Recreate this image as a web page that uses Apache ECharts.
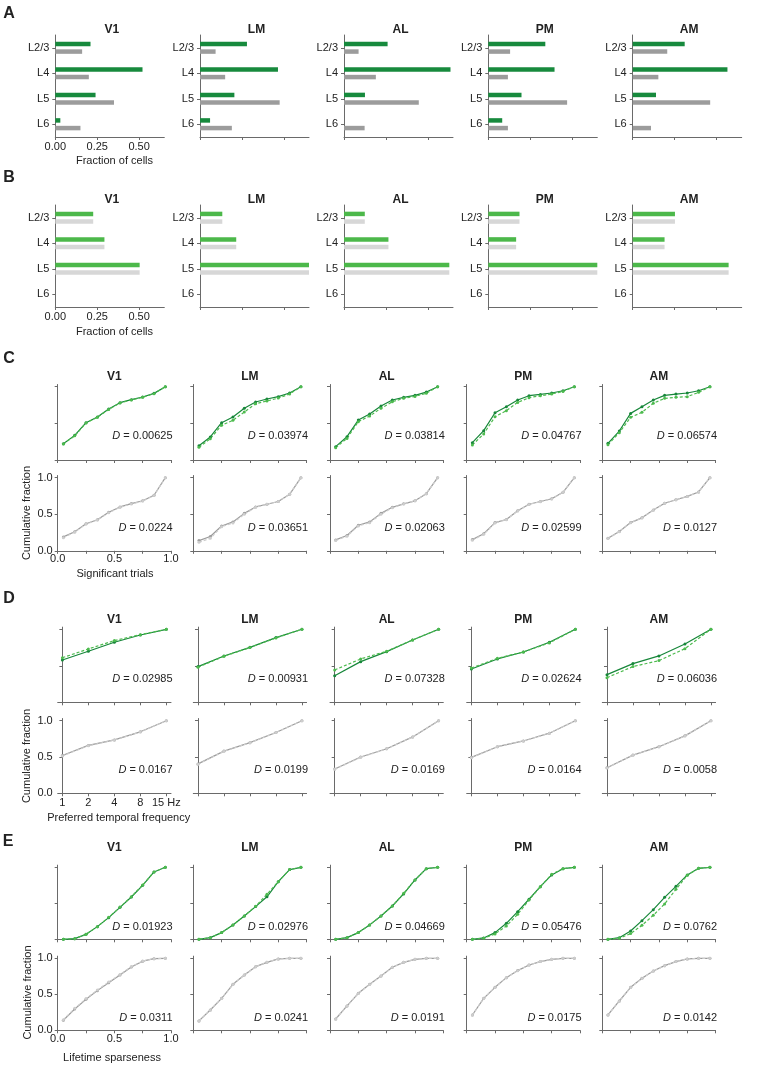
<!DOCTYPE html>
<html><head><meta charset="utf-8">
<script src="https://cdn.jsdelivr.net/npm/echarts@6/dist/echarts.min.js"></script>
<style>html,body{margin:0;padding:0;background:#fff}#c{width:758px;height:1068px}</style>
</head><body><div id="c"></div>
<script>
// ---------- DATA ----------
const areas = ['V1', 'LM', 'AL', 'PM', 'AM'];
const layers = ['L2/3', 'L4', 'L5', 'L6'];
const fracTicks = [0, 0.25, 0.5];

// Panel A: fraction of cells per layer (green, gray), one row per area
const aGreen = [
  [0.21, 0.52, 0.24, 0.03],
  [0.28, 0.465, 0.205, 0.06],
  [0.26, 0.635, 0.125, 0],
  [0.34, 0.395, 0.198, 0.083],
  [0.31, 0.565, 0.139, 0]
];
const aGray = [
  [0.16, 0.20, 0.35, 0.15],
  [0.093, 0.15, 0.475, 0.19],
  [0.087, 0.19, 0.446, 0.123],
  [0.13, 0.117, 0.47, 0.117],
  [0.206, 0.153, 0.462, 0.109]
];
// Panel B
const bGreen = [
  [0.226, 0.293, 0.503, 0],
  [0.133, 0.216, 0.65, 0],
  [0.124, 0.265, 0.628, 0],
  [0.186, 0.166, 0.65, 0],
  [0.252, 0.19, 0.572, 0]
];
const bGray = [
  [0.226, 0.293, 0.503, 0],
  [0.133, 0.216, 0.65, 0],
  [0.124, 0.265, 0.628, 0],
  [0.186, 0.166, 0.65, 0],
  [0.252, 0.19, 0.572, 0]
];

// Panel C: significant trials
const cX = [0.05, 0.15, 0.25, 0.35, 0.45, 0.55, 0.65, 0.75, 0.85, 0.95];
const cDark = [
  [0.223, 0.336, 0.509, 0.586, 0.695, 0.782, 0.823, 0.859, 0.909, 1.0],
  [0.195, 0.314, 0.509, 0.586, 0.705, 0.791, 0.832, 0.864, 0.914, 1.0],
  [0.182, 0.318, 0.545, 0.627, 0.736, 0.818, 0.855, 0.882, 0.927, 1.0],
  [0.236, 0.400, 0.645, 0.727, 0.818, 0.877, 0.895, 0.914, 0.945, 1.0],
  [0.227, 0.395, 0.636, 0.727, 0.818, 0.882, 0.900, 0.914, 0.945, 1.0]
];
const cLight = [
  [0.218, 0.330, 0.505, 0.582, 0.690, 0.778, 0.820, 0.855, 0.905, 1.0],
  [0.173, 0.291, 0.473, 0.541, 0.655, 0.768, 0.805, 0.845, 0.900, 1.0],
  [0.168, 0.295, 0.523, 0.600, 0.705, 0.795, 0.841, 0.868, 0.909, 1.0],
  [0.205, 0.355, 0.591, 0.673, 0.786, 0.850, 0.877, 0.900, 0.936, 1.0],
  [0.209, 0.373, 0.582, 0.650, 0.773, 0.841, 0.855, 0.864, 0.923, 1.0]
];
const cGray = [
  [0.19, 0.26, 0.37, 0.425, 0.527, 0.60, 0.646, 0.685, 0.76, 1.0],
  [0.14, 0.195, 0.34, 0.395, 0.512, 0.60, 0.637, 0.674, 0.772, 1.0],
  [0.149, 0.209, 0.349, 0.395, 0.512, 0.595, 0.642, 0.684, 0.781, 1.0],
  [0.153, 0.233, 0.386, 0.428, 0.549, 0.637, 0.674, 0.712, 0.80, 1.0],
  [0.172, 0.265, 0.386, 0.451, 0.558, 0.651, 0.698, 0.744, 0.805, 1.0]
];
const cGrayLight = [
  [0.18, 0.255, 0.365, 0.42, 0.52, 0.595, 0.64, 0.68, 0.755, 1.0],
  [0.116, 0.17, 0.33, 0.38, 0.50, 0.595, 0.637, 0.674, 0.772, 1.0],
  [0.14, 0.20, 0.34, 0.385, 0.50, 0.59, 0.64, 0.684, 0.781, 1.0],
  [0.145, 0.225, 0.38, 0.425, 0.545, 0.635, 0.672, 0.71, 0.80, 1.0],
  [0.168, 0.262, 0.384, 0.45, 0.556, 0.65, 0.697, 0.743, 0.805, 1.0]
];
const cD = ['0.00625', '0.03974', '0.03814', '0.04767', '0.06574'];
const cGrayD = ['0.0224', '0.03651', '0.02063', '0.02599', '0.0127'];

// Panel D: preferred temporal frequency
const dFreq = ['1', '2', '4', '8', '15 Hz'];
const dDark = [
  [0.58, 0.699, 0.822, 0.922, 1.0],
  [0.489, 0.635, 0.753, 0.886, 1.0],
  [0.365, 0.557, 0.694, 0.854, 1.0],
  [0.457, 0.594, 0.689, 0.822, 1.0],
  [0.379, 0.53, 0.635, 0.799, 1.0]
];
const dLight = [
  [0.61, 0.731, 0.845, 0.927, 1.0],
  [0.48, 0.63, 0.75, 0.882, 1.0],
  [0.443, 0.594, 0.699, 0.854, 1.0],
  [0.47, 0.603, 0.689, 0.813, 1.0],
  [0.338, 0.489, 0.571, 0.735, 1.0]
];
const dGray = [
  [0.52, 0.66, 0.735, 0.847, 1.0],
  [0.405, 0.581, 0.698, 0.837, 1.0],
  [0.335, 0.50, 0.614, 0.777, 1.0],
  [0.495, 0.642, 0.721, 0.828, 1.0],
  [0.352, 0.526, 0.642, 0.791, 1.0]
];
const dGrayLight = [
  [0.515, 0.655, 0.733, 0.845, 1.0],
  [0.40, 0.578, 0.696, 0.836, 1.0],
  [0.33, 0.495, 0.612, 0.776, 1.0],
  [0.49, 0.64, 0.72, 0.827, 1.0],
  [0.35, 0.525, 0.641, 0.79, 1.0]
];
const dD = ['0.02985', '0.00931', '0.07328', '0.02624', '0.06036'];
const dGrayD = ['0.0167', '0.0199', '0.0169', '0.0164', '0.0058'];

// Panel E: lifetime sparseness
const eX = [0.05, 0.15, 0.25, 0.35, 0.45, 0.55, 0.65, 0.75, 0.85, 0.95];
const eDark = [
  [0, 0.009, 0.069, 0.176, 0.301, 0.444, 0.588, 0.750, 0.935, 1.0],
  [0, 0.023, 0.093, 0.199, 0.324, 0.454, 0.590, 0.801, 0.968, 1.0],
  [0, 0.023, 0.093, 0.200, 0.324, 0.463, 0.630, 0.824, 0.981, 1.0],
  [0, 0.019, 0.093, 0.222, 0.384, 0.556, 0.731, 0.894, 0.981, 1.0],
  [0, 0.023, 0.116, 0.259, 0.412, 0.583, 0.736, 0.894, 0.986, 1.0]
];
const eLight = [
  [0, 0.009, 0.069, 0.176, 0.305, 0.448, 0.592, 0.755, 0.935, 1.0],
  [0, 0.023, 0.093, 0.199, 0.324, 0.460, 0.625, 0.801, 0.968, 1.0],
  [0, 0.023, 0.093, 0.200, 0.324, 0.463, 0.640, 0.824, 0.981, 1.0],
  [0, 0.014, 0.074, 0.185, 0.347, 0.546, 0.731, 0.903, 0.981, 1.0],
  [0, 0.014, 0.079, 0.194, 0.333, 0.491, 0.694, 0.889, 0.986, 1.0]
];
const eGray = [
  [0.139, 0.296, 0.430, 0.551, 0.662, 0.769, 0.880, 0.960, 0.995, 1.0],
  [0.130, 0.282, 0.444, 0.639, 0.769, 0.884, 0.944, 0.991, 1.0, 1.0],
  [0.157, 0.338, 0.514, 0.639, 0.755, 0.875, 0.944, 0.986, 1.0, 1.0],
  [0.213, 0.444, 0.597, 0.731, 0.829, 0.907, 0.954, 0.986, 1.0, 1.0],
  [0.213, 0.407, 0.597, 0.722, 0.824, 0.898, 0.954, 0.991, 1.0, 1.0]
];
const eGrayLight = [
  [0.145, 0.305, 0.440, 0.560, 0.670, 0.775, 0.885, 0.962, 0.995, 1.0],
  [0.128, 0.280, 0.442, 0.636, 0.767, 0.883, 0.944, 0.991, 1.0, 1.0],
  [0.155, 0.336, 0.512, 0.637, 0.754, 0.874, 0.944, 0.986, 1.0, 1.0],
  [0.211, 0.442, 0.596, 0.730, 0.828, 0.906, 0.954, 0.986, 1.0, 1.0],
  [0.211, 0.405, 0.596, 0.721, 0.823, 0.897, 0.954, 0.991, 1.0, 1.0]
];
const eD = ['0.01923', '0.02976', '0.04669', '0.05476', '0.0762'];
const eGrayD = ['0.0311', '0.0241', '0.0191', '0.0175', '0.0142'];

// ---------- LAYOUT / STYLE ----------
const FONT = '"Liberation Sans", Arial, Helvetica, sans-serif';
const AX = '#6a6a6a';
const TXT = '#222';
const colA = [55.3, 200, 344, 488.3, 632.7], wA = 109;
const colL = [57.7, 193.3, 330, 466.7, 602.3], wL = 113.3;
const GREEN_A = '#178a3d', GRAY_A = '#9c9c9c';
const GREEN_B = '#4cb84a', GRAY_B = '#d7d7d7';
const G_DARK = '#17873a', G_LIGHT = '#4dbb4e';
const GR_DARK = '#9b9b9b', GR_LIGHT = '#cdcdcd';

const grids = [], xAxes = [], yAxes = [], series = [], graphics = [];

function txt(x, y, text, o) {
  o = o || {};
  graphics.push({
    type: 'text', x: x, y: y, rotation: o.rot || 0, silent: true,
    style: {
      text: text, fill: TXT, fontFamily: FONT, fontSize: o.size || 11,
      fontWeight: o.bold ? 'bold' : 'normal', align: o.align || 'center',
      verticalAlign: 'middle', rich: o.rich
    }
  });
}
function addGrid(left, top, width, height) {
  grids.push({ left: left, top: top, width: width, height: height, outerBoundsMode: 'none' });
  return grids.length - 1;
}
const axLine = { show: true, lineStyle: { color: AX, width: 1 } };
const lbl = (extra) => Object.assign({ fontSize: 11, color: TXT, fontFamily: FONT }, extra);

function barRow(top, green, gray, cG, cGr, titleY, nameY) {
  for (let i = 0; i < 5; i++) {
    const gi = addGrid(colA[i], top, wA, 102);
    xAxes.push({
      gridIndex: gi, type: 'value', min: 0, max: 0.65,
      axisLine: axLine,
      axisTick: { show: true, length: 3, customValues: fracTicks, lineStyle: { color: AX } },
      axisLabel: lbl({ show: i === 0, customValues: fracTicks, formatter: v => v.toFixed(2), margin: 4 }),
      splitLine: { show: false }
    });
    yAxes.push({
      gridIndex: gi, type: 'category', data: layers, inverse: true,
      axisLine: axLine,
      axisTick: { show: true, alignWithLabel: true, length: 3, lineStyle: { color: AX } },
      axisLabel: lbl({ margin: 6 }),
      splitLine: { show: false }
    });
    series.push({ type: 'bar', xAxisIndex: gi, yAxisIndex: gi, data: green[i], barWidth: 4.5, barGap: '70%', itemStyle: { color: cG }, silent: true });
    series.push({ type: 'bar', xAxisIndex: gi, yAxisIndex: gi, data: gray[i], barWidth: 4.5, barGap: '70%', itemStyle: { color: cGr }, silent: true });
    txt(colA[i] + wA / 2 + 2, titleY, areas[i], { bold: true, size: 12 });
  }
  txt(114.5, nameY, 'Fraction of cells');
}

function lineRow(y0, u, mode, xs, dark, light, cDk, cLt, dTexts, dOff, showAxisLabels) {
  const top = y0 - 1.03 * u, h = 1.03 * u;
  for (let i = 0; i < 5; i++) {
    const gi = addGrid(colL[i], top, wL, h);
    const showL = showAxisLabels && i === 0;
    let xa;
    if (mode === 'freq') {
      xa = {
        gridIndex: gi, type: 'value', min: -0.18, max: 4.18,
        axisLine: axLine,
        axisTick: { show: true, length: 3, customValues: [0, 1, 2, 3, 4], lineStyle: { color: AX } },
        axisLabel: lbl({ show: showL, customValues: [0, 1, 2, 3, 4], formatter: v => dFreq[Math.round(v)], margin: 4 }),
        splitLine: { show: false }
      };
    } else {
      xa = {
        gridIndex: gi, type: 'value', min: 0, max: 1,
        axisLine: axLine,
        axisTick: { show: true, length: 3, customValues: [0, 0.25, 0.5, 0.75, 1], lineStyle: { color: AX } },
        axisLabel: lbl({ show: showL, customValues: [0, 0.5, 1], formatter: v => v.toFixed(1), margin: 3 }),
        splitLine: { show: false }
      };
    }
    xAxes.push(xa);
    yAxes.push({
      gridIndex: gi, type: 'value', min: 0, max: 1.03,
      axisLine: axLine,
      axisTick: { show: true, length: 3, customValues: [0, 0.5, 1], lineStyle: { color: AX } },
      axisLabel: lbl({ show: showL, customValues: [0, 0.5, 1], formatter: v => v.toFixed(1), margin: 5 }),
      splitLine: { show: false }
    });
    const mk = (arr) => arr[i].map((v, k) => [xs[k], v]);
    series.push({
      type: 'line', xAxisIndex: gi, yAxisIndex: gi, data: mk(dark), symbol: 'circle', symbolSize: 3,
      lineStyle: { color: cDk, width: 1.2 }, itemStyle: { color: cDk }, silent: true
    });
    series.push({
      type: 'line', xAxisIndex: gi, yAxisIndex: gi, data: mk(light), symbol: 'circle', symbolSize: 3,
      lineStyle: { color: cLt, width: 1.2, type: [3, 2] }, itemStyle: { color: cLt }, silent: true
    });
    txt(colL[i] + wL + 1.5, y0 - dOff, '{i|D} = ' + dTexts[i], {
      align: 'right',
      rich: { i: { fontStyle: 'italic', fontSize: 11, fontFamily: FONT, fill: TXT } }
    });
  }
}

// Panel A & B
txt(9, 13.5, 'A', { bold: true, size: 16 });
barRow(35, aGreen, aGray, GREEN_A, GRAY_A, 29.3, 160.7);
txt(9, 178, 'B', { bold: true, size: 16 });
barRow(205, bGreen, bGray, GREEN_B, GRAY_B, 199.3, 331.7);

// Panel C
txt(9, 359, 'C', { bold: true, size: 16 });
for (let i = 0; i < 5; i++) txt(colL[i] + wL / 2, 376.7, areas[i], { bold: true, size: 12 });
lineRow(460, 73.3, 'c', cX, cDark, cLight, G_DARK, G_LIGHT, cD, 24.3, false);
lineRow(550.8, 73.1, 'c', cX, cGray, cGrayLight, GR_DARK, GR_LIGHT, cGrayD, 23, true);
txt(115, 574.3, 'Significant trials');
txt(27, 513, 'Cumulative fraction', { rot: Math.PI / 2 });

// Panel D
txt(9, 598.3, 'D', { bold: true, size: 16 });
for (let i = 0; i < 5; i++) txt(colL[i] + wL / 2, 619.3, areas[i], { bold: true, size: 12 });
lineRow(702.3, 73, 'freq', [0, 1, 2, 3, 4], dDark, dLight, G_DARK, G_LIGHT, dD, 23.6, false);
lineRow(793.3, 72.6, 'freq', [0, 1, 2, 3, 4], dGray, dGrayLight, GR_DARK, GR_LIGHT, dGrayD, 23.3, true);
txt(118.7, 817.7, 'Preferred temporal frequency');
txt(27, 756, 'Cumulative fraction', { rot: Math.PI / 2 });

// Panel E
txt(8, 841.7, 'E', { bold: true, size: 16 });
for (let i = 0; i < 5; i++) txt(colL[i] + wL / 2, 847.7, areas[i], { bold: true, size: 12 });
lineRow(939.3, 72, 'c', eX, eDark, eLight, G_DARK, G_LIGHT, eD, 12.6, false);
lineRow(1030.3, 72, 'c', eX, eGray, eGrayLight, GR_DARK, GR_LIGHT, eGrayD, 12.6, true);
txt(112, 1057.7, 'Lifetime sparseness');
txt(28, 992.5, 'Cumulative fraction', { rot: Math.PI / 2 });

const chart = echarts.init(document.getElementById('c'), null, { renderer: 'canvas' });
chart.setOption({
  animation: false,
  backgroundColor: '#fff',
  textStyle: { fontFamily: FONT },
  grid: grids, xAxis: xAxes, yAxis: yAxes, series: series, graphic: graphics
});
</script>
</body></html>
